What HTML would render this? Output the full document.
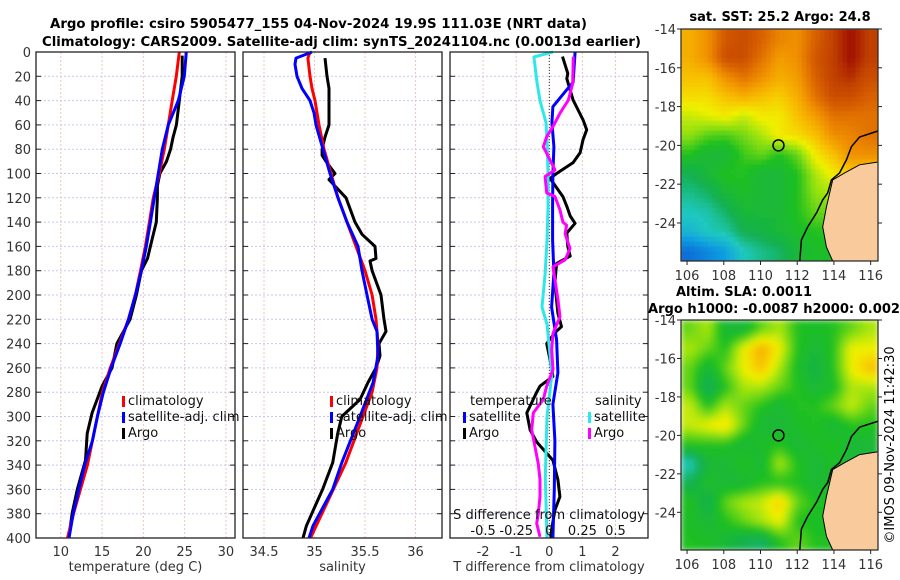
<!DOCTYPE html>
<html><head><meta charset="utf-8"><style>
html,body{margin:0;padding:0;background:#fff;}
svg{display:block;font-family:"DejaVu Sans","Liberation Sans",sans-serif;}
</style></head><body>
<svg id="fig" width="900" height="580" viewBox="0 0 900 580" xmlns="http://www.w3.org/2000/svg">
<defs>
<filter id="blurS" x="0" y="0" width="1" height="1"><feGaussianBlur stdDeviation="0.8"/></filter>
<filter id="blurL" x="0" y="0" width="1" height="1"><feGaussianBlur stdDeviation="3"/></filter>
<clipPath id="clipSST"><rect x="681" y="29" width="197" height="232"/></clipPath>
<clipPath id="clipSLA"><rect x="681" y="320" width="197" height="230"/></clipPath>
</defs>
<text x="50" y="28" font-size="13" font-weight="bold" textLength="537" lengthAdjust="spacingAndGlyphs">Argo profile: csiro 5905477_155 04-Nov-2024 19.9S 111.03E (NRT data)</text>
<text x="42" y="46" font-size="13" font-weight="bold" textLength="599" lengthAdjust="spacingAndGlyphs">Climatology: CARS2009. Satellite-adj clim: synTS_20241104.nc (0.0013d earlier)</text>
<g id="plots"></g>
<text x="780" y="21" font-size="13" font-weight="bold" text-anchor="middle">sat. SST: 25.2 Argo: 24.8</text>
<text x="676" y="296" font-size="13" font-weight="bold">Altim. SLA: 0.0011</text>
<text x="648" y="313" font-size="13" font-weight="bold" textLength="252" lengthAdjust="spacingAndGlyphs">Argo h1000: -0.0087 h2000: 0.002</text>
<text transform="translate(894,445) rotate(-90)" font-size="13" text-anchor="middle">©IMOS 09-Nov-2024 11:42:30</text>
</svg>
<script>
// ---- profile data (depth in m) ----
const tClimDepth=[0,20,40,60,80,100,120,140,160,180,200,220,240,260,280,300,320,340,360,380,400];
const tClim=[24.35,23.99,23.5,23.02,22.54,21.93,21.2,20.73,20.25,19.65,19.04,18.2,17.1,16.0,15.04,14.44,13.83,13.23,12.38,11.54,10.81];
const tSat=[25.2,24.96,24.23,23.02,22.3,21.81,21.33,20.85,20.36,19.76,19.04,18.2,17.2,16.1,15.16,14.44,13.83,12.9,12.2,11.5,11.0];
const tArgoDepth=[3,20,40,60,70,80,90,100,110,120,140,150,160,170,180,200,220,240,260,275,297,314,336,360,379,398];
const tArgo=[24.7,24.7,24.35,24.0,23.6,23.3,22.8,22.0,21.7,21.7,21.57,21.2,20.85,20.5,19.76,19.16,18.4,16.8,16.2,15.0,13.8,13.2,13.0,12.0,11.4,11.0];
const sClimDepth=[0,5,20,30,40,60,80,100,120,160,180,200,220,240,260,280,300,338,400];
const sClim=[34.955,34.935,34.955,34.975,35.005,35.045,35.094,35.163,35.233,35.411,35.5,35.57,35.609,35.629,35.619,35.57,35.48,35.31,34.96];
const sSatDepth=[0,5,10,20,30,40,50,60,80,100,120,140,160,180,200,220,230,250,272,300,338,360,390,400];
const sSat=[34.975,34.817,34.807,34.827,34.876,34.955,34.995,35.015,35.084,35.153,35.233,35.322,35.431,35.47,35.52,35.57,35.619,35.629,35.58,35.45,35.27,35.18,34.985,34.946];
const sArgoDepth=[5,20,30,60,70,80,85,90,100,105,120,140,150,160,170,172,180,200,220,230,240,250,260,272,286,300,314,338,360,374,390,400];
const sArgo=[35.104,35.124,35.144,35.144,35.104,35.075,35.075,35.114,35.203,35.144,35.312,35.401,35.47,35.599,35.609,35.55,35.57,35.658,35.688,35.708,35.639,35.649,35.609,35.53,35.45,35.27,35.23,35.18,35.08,35.005,34.92,34.886];
const dTSatDepth=[0,25,31,45,58,78,100,127,155,182,210,237,264,290,320,360,400];
const dTSat=[0.78,0.72,0.53,0.11,0.08,0.14,0.11,0.10,0.10,0.14,0.07,0.22,0.26,0.11,0.17,0.15,0.11];
const dTArgoDepth=[3.8,17.6,22,39.5,56,64,72,83,91,100,104,119,127,135,141,149,160,168,174,190,215,226,231,240,253,267,275,280,297,311,321,336,352,366,377,393,400];
const dTArgo=[0.40,0.56,0.53,0.72,1.02,1.13,1.02,0.93,0.72,0.22,0.02,0.41,0.53,0.63,0.78,0.53,0.56,0.63,0.22,0.17,0.26,0.37,0.17,-0.08,0.02,0.11,-0.28,-0.38,-0.68,-0.58,-0.38,0.11,0.26,0.32,0.17,0.07,0.05];
const dSSatDepth=[0,4,25,40,58,73,100,128,155,183,210,224,265,300,350,400];
const dSSat=[0.028,-0.116,-0.093,-0.07,-0.025,-0.017,-0.01,-0.01,-0.017,-0.032,-0.055,-0.017,0.02,-0.017,-0.03,-0.017];
const dSArgoDepth=[3.8,25.6,39.5,50.4,61.4,69.6,78,80.7,89,97,102.5,116,119,130,140,142.6,149.5,161.8,171,176.8,187.7,204,218,231.5,245,261.6,275,286,297,311,325,339,352,366,380,388,399];
const dSArgo=[0.181,0.177,0.144,0.081,0.028,-0.02,-0.045,-0.032,0.005,0.043,-0.032,-0.02,0.043,0.081,0.103,0.131,0.119,0.156,0.119,0.028,0.043,0.066,0.081,0.028,0.018,0.028,-0.02,-0.045,-0.121,-0.133,-0.108,-0.083,-0.07,-0.07,-0.083,-0.095,-0.07];
const depthTicks=[0,20,40,60,80,100,120,140,160,180,200,220,240,260,280,300,320,340,360,380,400];
const tTicks=[10,15,20,25,30];
const sTicks=[34.5,35,35.5,36];
const dTTicks=[-2,-1,0,1,2];
const dSTickLabels=["-0.5","-0.25","0","0.25","0.5"];

// ---- map data ----
const mapLons=[106,108,110,112,114,116];
const mapLats=[-14,-16,-18,-20,-22,-24];
const sstGrid=[
[.75,.8,.9,.92,.88,.82,.8,.88,.95,1,.95],
[.75,.8,.92,.92,.85,.78,.8,.9,.95,1,.95],
[.72,.72,.8,.85,.8,.75,.78,.88,.95,.97,.92],
[.68,.68,.72,.75,.72,.7,.75,.85,.92,.92,.88],
[.62,.64,.66,.62,.66,.66,.72,.78,.85,.85,.85],
[.58,.54,.53,.56,.6,.66,.68,.72,.8,.82,.85],
[.5,.45,.45,.52,.55,.5,.55,.66,.72,.8,.8],
[.4,.45,.5,.5,.45,.45,.5,.6,.66,.7,.7],
[.35,.38,.45,.48,.45,.45,.5,.58,.6,.6,.6],
[.3,.32,.38,.45,.45,.45,.5,.55,.55,.55,.55],
[.25,.3,.32,.4,.42,.45,.48,.5,.5,.5,.5],
[.1,.15,.2,.3,.35,.38,.45,.48,.48,.48,.48]];
const slaGrid=[
[.55,.6,.45,.45,.55,.6,.5,.48,.5,.55,.6],
[.6,.55,.5,.65,.75,.65,.5,.45,.5,.65,.65],
[.55,.45,.55,.65,.72,.6,.48,.42,.5,.65,.72],
[.55,.38,.5,.6,.6,.55,.5,.45,.48,.6,.6],
[.62,.5,.6,.55,.5,.45,.5,.5,.55,.62,.55],
[.62,.65,.68,.55,.45,.45,.48,.5,.45,.5,.5],
[.5,.5,.5,.45,.48,.5,.45,.48,.5,.45,.45],
[.3,.45,.45,.5,.45,.6,.5,.45,.48,.45,.45],
[.4,.48,.45,.45,.5,.5,.5,.45,.48,.48,.48],
[.5,.4,.55,.6,.62,.7,.55,.5,.5,.5,.5],
[.48,.45,.5,.55,.6,.65,.5,.48,.5,.5,.5],
[.5,.48,.45,.4,.38,.5,.55,.5,.5,.5,.5]];
const landLon=[116.36,115.4,114.58,113.93,113.77,113.59,113.39,113.59,113.93,116.4,116.4];
const landLat=[-20.86,-21.0,-21.42,-21.78,-22.45,-23.18,-24.2,-25.24,-25.96,-25.96,-20.86];
const coastLon=[116.4,115.4,114.95,114.68,114.31,113.86,113.66,113.39,113.05,112.57,112.23,112.14];
const coastLat=[-19.26,-19.57,-20.07,-20.75,-21.42,-21.78,-22.45,-22.81,-23.48,-24.2,-24.87,-25.96];
const argoLon=[110.98];
const argoLat=[-20.0];

const NS="http://www.w3.org/2000/svg";
const root=document.getElementById('plots');
function mk(tag,attrs,parent){const e=document.createElementNS(NS,tag);for(const k in attrs)e.setAttribute(k,attrs[k]);(parent||root).appendChild(e);return e;}
const Y0=52,Y1=538;
const yD=d=>Y0+(d/400)*(Y1-Y0);
function xScale(v0,v1,p0,p1){return v=>p0+(v-v0)/(v1-v0)*(p1-p0);}

function panel(name,px0,px1,xs,ticks,labels,showY,xlabel){
  const g=mk('g',{});
  
  
  ticks.forEach(t=>{const l=mk('line',{x1:xs(t),x2:xs(t),y1:Y0,y2:Y1,stroke:'#e8c8c0','stroke-width':1,'stroke-dasharray':'2,2'},g);});
  depthTicks.forEach(d=>{
    const l=mk('line',{x1:px0,x2:px1,y1:yD(d),y2:yD(d),stroke:'#c8c8ee','stroke-width':1,'stroke-dasharray':'2,2'},g);
    
    mk('line',{x1:px0,x2:px0+5,y1:yD(d),y2:yD(d),stroke:'#222'},g);
    mk('line',{x1:px1-5,x2:px1,y1:yD(d),y2:yD(d),stroke:'#222'},g);
    if(showY){const t=mk('text',{x:31,y:yD(d)+5,'font-size':13,'text-anchor':'end',fill:'#333'},g);t.textContent=d;}
  });
  ticks.forEach((t,i)=>{const tx=mk('text',{x:xs(t),y:556,'font-size':13,'text-anchor':'middle',fill:'#333'},g);tx.textContent=labels[i];});
  const xl=mk('text',{x:(px0+px1)/2,y:571,'font-size':13,'text-anchor':'middle',fill:'#333'},g);xl.textContent=xlabel;
  
  return g;
}
function line(g,name,xs,vals,depths,color,w){
  const p=mk('polyline',{points:vals.map((v,i)=>xs(v).toFixed(1)+','+yD(depths[i]).toFixed(1)).join(' '),fill:'none',stroke:color,'stroke-width':w||3,'stroke-linejoin':'round'},g);
  
}
function frame(g,px0,px1){const r=mk('rect',{x:px0,y:Y0,width:px1-px0,height:Y1-Y0,fill:'none',stroke:'#222','stroke-width':1.3},g);}
function legend(g,x,y,items){items.forEach((it,i)=>{
  const b=mk('rect',{x:x,y:y+i*16-9,width:3,height:11,fill:it[1]},g);
  const t=mk('text',{x:x+6,y:y+i*16,'font-size':13,fill:'#111'},g);t.textContent=it[0];
});}

// Panel 1 temperature
const xT=xScale(7,31.1,36,235);
const g1=panel('temperature-panel',36,235,xT,tTicks,tTicks.map(String),true,'temperature (deg C)');
line(g1,'temp-argo-line',xT,tArgo,tArgoDepth,'#000');
line(g1,'temp-climatology-line',xT,tClim,tClimDepth,'#f00');
line(g1,'temp-satellite-line',xT,tSat,tClimDepth,'#00f');
frame(g1,36,235);
legend(g1,122,405,[['climatology','#f00'],['satellite-adj. clim','#00f'],['Argo','#000']]);

// Panel 2 salinity
const xS=xScale(34.5,36,264,415.5);
const g2=panel('salinity-panel',243,442,xS,sTicks,['34.5','35','35.5','36'],false,'salinity');
line(g2,'sal-argo-line',xS,sArgo,sArgoDepth,'#000');
line(g2,'sal-climatology-line',xS,sClim,sClimDepth,'#f00');
line(g2,'sal-satellite-line',xS,sSat,sSatDepth,'#00f');
frame(g2,243,442);
legend(g2,330,405,[['climatology','#f00'],['satellite-adj. clim','#00f'],['Argo','#000']]);

// Panel 3 differences
const xdT=xScale(0,1,549.3,582.4);
const xdS=v=>xdT(v*4);
const g3=panel('difference-panel',450,648,xdT,dTTicks,dTTicks.map(String),false,'T difference from climatology');
const z=mk('line',{x1:xdT(0),x2:xdT(0),y1:Y0,y2:Y1,stroke:'#333','stroke-dasharray':'1,2'},g3);
line(g3,'dT-argo-line',xdT,dTArgo,dTArgoDepth,'#000');
line(g3,'dS-satellite-line',xdS,dSSat,dSSatDepth,'#2ee8e8');
line(g3,'dT-satellite-line',xdT,dTSat,dTSatDepth,'#00f');
line(g3,'dS-argo-line',xdS,dSArgo,dSArgoDepth,'#f0f');
frame(g3,450,648);
{const t=mk('text',{x:470,y:405,'font-size':13,fill:'#111'},g3);t.textContent='temperature';
 const s=mk('text',{x:595,y:405,'font-size':13,fill:'#111'},g3);s.textContent='salinity';}
legend(g3,463,421,[['satellite','#00f'],['Argo','#000']]);
legend(g3,588,421,[['satellite','#2ee8e8'],['Argo','#f0f']]);
{const t=mk('text',{x:549,y:519,'font-size':13,'text-anchor':'middle',fill:'#111'},g3);t.textContent='S difference from climatology';}
dTTicks.forEach((v,i)=>{const t=mk('text',{x:xdT(v),y:535,'font-size':13,'text-anchor':'middle',fill:'#111'},g3);t.textContent=dSTickLabels[i];});

// ---- maps ----
const stops=[[0,[16,64,208]],[0.2,[16,160,224]],[0.3,[32,200,192]],[0.4,[20,176,80]],[0.5,[32,192,32]],[0.58,[144,224,16]],[0.65,[240,240,0]],[0.72,[248,192,0]],[0.8,[240,144,0]],[0.88,[216,96,0]],[0.95,[192,64,0]],[1,[160,16,0]]];
function cmap(v){for(let i=1;i<stops.length;i++){if(v<=stops[i][0]){const a=stops[i-1],b=stops[i],f=(v-a[0])/(b[0]-a[0]);return 'rgb('+a[1].map((c,k)=>Math.round(c+(b[1][k]-c)*f)).join(',')+')';}}return 'rgb(160,16,0)';}
function sample(grid,fr,fc){
  const nr=grid.length,nc=grid[0].length;
  fr=Math.max(0,Math.min(nr-1,fr));fc=Math.max(0,Math.min(nc-1,fc));
  const r0=Math.floor(fr),c0=Math.floor(fc),r1=Math.min(nr-1,r0+1),c1=Math.min(nc-1,c0+1);
  const a=fr-r0,b=fc-c0;
  return grid[r0][c0]*(1-a)*(1-b)+grid[r0][c1]*(1-a)*b+grid[r1][c0]*a*(1-b)+grid[r1][c1]*a*b;
}
function drawMap(name,top,bottom,grid,filt,clip,sub){
  const lon0=105.67,lon1=116.4,lat0=-14,lat1=-25.96;
  const xm=xScale(lon0,lon1,681,878), ym=xScale(lat0,lat1,top,bottom);
  const g=mk('g',{});
  
  const gc=mk('g',{'clip-path':'url(#'+clip+')'},g);
  const gi=mk('g',{filter:'url(#'+filt+')'},gc);
  const nr=grid.length,nc=grid[0].length;
  const R=nr*sub,C=nc*sub;
  const cw=197/C,ch=(bottom-top)/R;
  for(let r=0;r<R;r++)for(let c=0;c<C;c++){
    const v=sample(grid,(r+0.5)/sub-0.5,(c+0.5)/sub-0.5);
    const cell=mk('rect',{x:(681+c*cw).toFixed(2),y:(top+r*ch).toFixed(2),width:(cw+0.6).toFixed(2),height:(ch+0.6).toFixed(2),fill:cmap(v)},gi);
    
    
  }
  const land=mk('polygon',{points:landLon.map((lo,i)=>xm(lo).toFixed(1)+','+ym(landLat[i]).toFixed(1)).join(' '),fill:'#f9cb9c'},gc);
  
  const coast=mk('polyline',{points:coastLon.map((lo,i)=>xm(lo).toFixed(1)+','+ym(coastLat[i]).toFixed(1)).join(' '),fill:'none',stroke:'#000','stroke-width':1.5},gc);
  
  const coast2=mk('polyline',{points:landLon.slice(0,9).map((lo,i)=>xm(lo).toFixed(1)+','+ym(landLat[i]).toFixed(1)).join(' '),fill:'none',stroke:'#000','stroke-width':1},gc);
  
  const m=mk('circle',{cx:xm(argoLon[0]),cy:ym(argoLat[0]),r:5.5,fill:'none',stroke:'#000','stroke-width':1.5},g);
  
  const fr=mk('rect',{x:681,y:top,width:197,height:bottom-top,fill:'none',stroke:'#222','stroke-width':1.2},g);
  
  mapLons.forEach(lo=>{mk('line',{x1:xm(lo),x2:xm(lo),y1:bottom,y2:bottom+4,stroke:'#222'},g);
    const t=mk('text',{x:xm(lo),y:bottom+19,'font-size':13,'text-anchor':'middle',fill:'#333'},g);t.textContent=lo;});
  mapLats.forEach(la=>{mk('line',{x1:677,x2:681,y1:ym(la),y2:ym(la),stroke:'#222'},g);mk('line',{x1:878,x2:882,y1:ym(la),y2:ym(la),stroke:'#222'},g);
    const t=mk('text',{x:676,y:ym(la)+5,'font-size':13,'text-anchor':'end',fill:'#333'},g);t.textContent=la;});
}
drawMap('sst-map',29,261,sstGrid,'blurS','clipSST',4);
drawMap('sla-map',320,550,slaGrid,'blurL','clipSLA',4);
</script>
</body></html>
